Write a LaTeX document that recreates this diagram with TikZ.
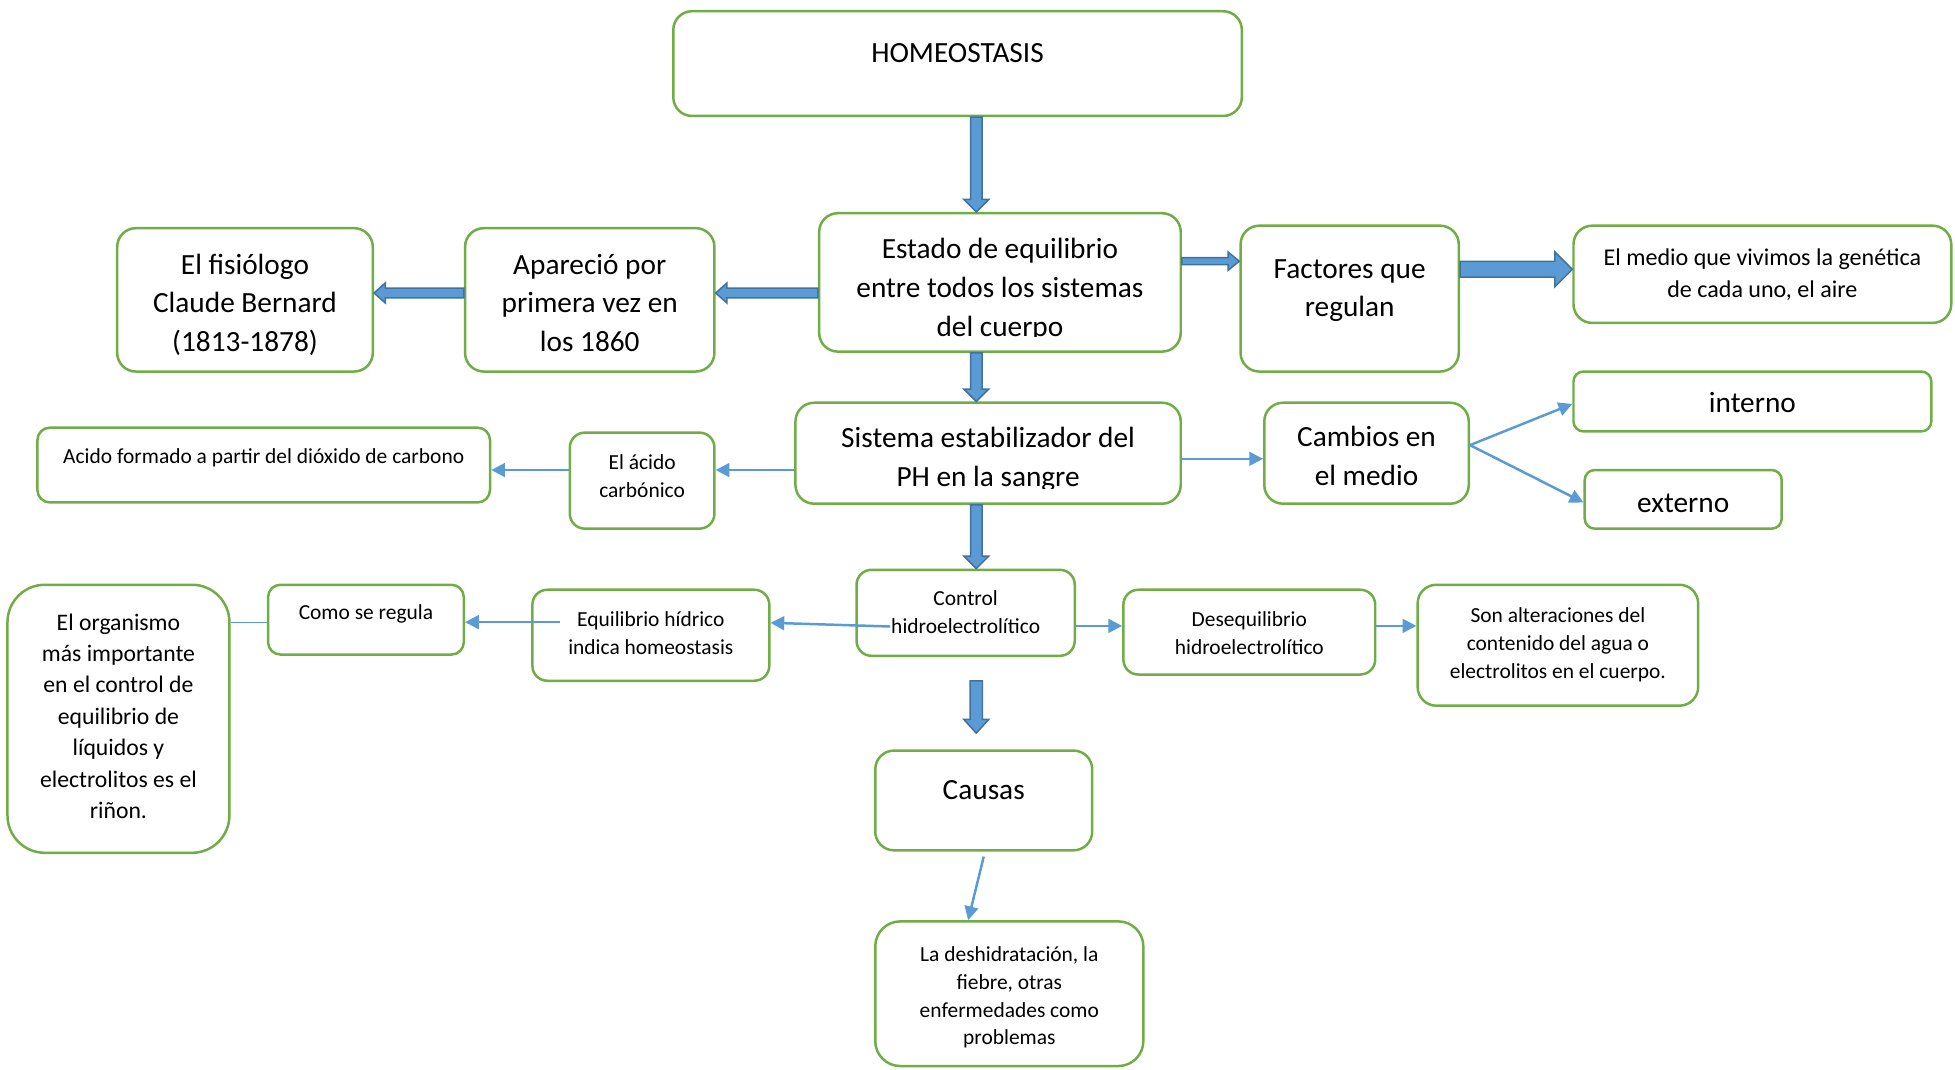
\documentclass[tikz,border=0pt]{standalone}
\usepackage{fontspec}
\setmainfont{Carlito}
\usetikzlibrary{arrows.meta,calc}

% flecha de bloque: desde, hasta, medio cuerpo, media punta, largo punta
\newcommand{\flechabloque}[5]{%
  \draw[gruesa] let \p1=(#1), \p2=(#2), \n1={veclen(\x2-\x1,\y2-\y1)},
    \n2={(\x2-\x1)/\n1}, \n3={(\y2-\y1)/\n1} in
    ({\x1-(\n3)*(#3)},{\y1+(\n2)*(#3)})
    -- ({\x2-(\n2)*(#5)-(\n3)*(#3)},{\y2-(\n3)*(#5)+(\n2)*(#3)})
    -- ({\x2-(\n2)*(#5)-(\n3)*(#4)},{\y2-(\n3)*(#5)+(\n2)*(#4)})
    -- (\x2,\y2)
    -- ({\x2-(\n2)*(#5)+(\n3)*(#4)},{\y2-(\n3)*(#5)-(\n2)*(#4)})
    -- ({\x2-(\n2)*(#5)+(\n3)*(#3)},{\y2-(\n3)*(#5)-(\n2)*(#3)})
    -- ({\x1+(\n3)*(#3)},{\y1-(\n2)*(#3)}) -- cycle;}

\begin{document}
\begin{tikzpicture}[x=1pt,y=-1pt,
    caja/.style={draw=verde, line width=2pt, rounded corners=15pt, fill=white, align=center, inner sep=2pt, text depth=0pt},
    grande/.style={font=\fontsize{23.5}{31}\selectfont},
    media/.style={font=\fontsize{19.3}{26}\selectfont},
    organo/.style={font=\fontsize{19}{25.2}\selectfont},
    chica/.style={font=\fontsize{17.2}{22.3}\selectfont},
    fina/.style={draw=azul, line width=2pt, -{Triangle[length=11pt,width=11pt]}},
    linea/.style={draw=azul, line width=1pt},
    gruesa/.style={draw=azuloscuro, fill=azul, line width=1.2pt}]
    \definecolor{verde}{HTML}{70AD47}
    \definecolor{azul}{HTML}{5B9BD5}
    \definecolor{azuloscuro}{HTML}{41719C}
    \useasboundingbox (0,0) rectangle (1568,858);

    %Cajas
    \node[caja, grande, minimum width=456pt, minimum height=84pt, text height=16pt, text depth=17.6pt] (homeo) at (768,51) {HOMEOSTASIS};
    \node[caja, grande, minimum width=290pt, minimum height=111pt, text height=86pt] (estado) at (802,226.5) {Estado de equilibrio\\entre todos los sistemas\\del cuerpo};
    \node[caja, grande, minimum width=200pt, minimum height=115pt, text height=83pt] (aparecio) at (473,240.5) {Apareció por\\primera vez en\\los 1860};
    \node[caja, grande, minimum width=205pt, minimum height=115pt, text height=83pt] (fisiologo) at (196.5,240.5) {El fisiólogo\\Claude Bernard\\(1813-1878)};
    \node[caja, grande, minimum width=175pt, minimum height=117pt, text height=29.4pt] (factores) at (1082.5,239.5) {Factores que\\regulan};
    \node[caja, media, minimum width=303pt, minimum height=78pt, text height=37.6pt] (medio) at (1413.5,220) {El medio que vivimos la genética\\de cada uno, el aire};
    \node[caja, grande, minimum width=309pt, minimum height=81pt, text height=53pt] (sistema) at (792.5,363.5) {Sistema estabilizador del\\PH en la sangre};
    \node[caja, chica, minimum width=116pt, minimum height=77pt, rounded corners=12pt, text height=27pt] (acido) at (515,385.5) {El ácido\\carbónico};
    \node[caja, chica, minimum width=363pt, minimum height=60pt, rounded corners=10pt, text height=14pt, text depth=16pt] (formado) at (211.5,373) {Acido formado a partir del dióxido de carbono};
    \node[caja, grande, minimum width=164pt, minimum height=81pt, text height=51.4pt] (cambios) at (1096,363.5) {Cambios en\\el medio};
    \node[caja, grande, minimum width=287pt, minimum height=48pt, rounded corners=8pt, text height=18.4pt] (interno) at (1405.5,322) {interno};
    \node[caja, grande, minimum width=158pt, minimum height=47pt, rounded corners=8pt, text height=21.4pt] (externo) at (1350,400.5) {externo};
    \node[caja, chica, minimum width=175pt, minimum height=69pt, rounded corners=12pt, text height=33pt] (control) at (774.5,491.5) {Control\\hidroelectrolítico};
    \node[caja, chica, minimum width=202pt, minimum height=68pt, rounded corners=12pt, text height=36pt] (desequilibrio) at (1002,507) {Desequilibrio\\hidroelectrolítico};
    \node[caja, chica, minimum width=225pt, minimum height=97pt, text height=53pt] (alteraciones) at (1249.5,517.5) {Son alteraciones del\\contenido del agua o\\electrolitos en el cuerpo.};
    \node[caja, chica, minimum width=190pt, minimum height=73pt, rounded corners=12pt, text height=31pt] (equilibrio) at (522,509.5) {Equilibrio hídrico\\indica homeostasis};
    \node[caja, chica, minimum width=157pt, minimum height=56pt, rounded corners=10pt, text height=14pt, text depth=14pt] (regula) at (293.5,497) {Como se regula};
    \node[caja, organo, minimum width=178pt, minimum height=215pt, rounded corners=30pt, text height=160pt] (organismo) at (95,576.5) {El organismo\\más importante\\en el control de\\equilibrio de\\líquidos y\\electrolitos es el\\riñon.};
    \node[caja, grande, minimum width=174pt, minimum height=80pt, text height=16pt, text depth=17.6pt] (causas) at (789,642) {Causas};
    \node[caja, chica, minimum width=215pt, minimum height=116pt, rounded corners=20pt, text height=82pt] (deshidratacion) at (809.5,797) {La deshidratación, la\\fiebre, otras\\enfermedades como\\problemas};

    %Texto cortado abajo
    \fill[white] ($(estado.south west)+(20,-2)$) rectangle ($(estado.south east)+(-20,-12.5)$);
    \fill[white] ($(sistema.south west)+(20,-2)$) rectangle ($(sistema.south east)+(-20,-13)$);

    %Flechas gruesas
    \coordinate (eje) at (783,0);
    \coordinate (fila) at (0,235);
    \coordinate (fila2) at (0,209.5);
    \coordinate (fila3) at (0,216);
    \coordinate (c1) at (783,546);
    \coordinate (c2) at (783,588);
    \flechabloque{homeo.south -| eje}{estado.north -| eje}{4.6pt}{10pt}{10pt}
    \flechabloque{estado.south -| eje}{sistema.north -| eje}{4.6pt}{10pt}{10pt}
    \flechabloque{sistema.south -| eje}{control.north -| eje}{4.6pt}{10pt}{10pt}
    \flechabloque{c1}{c2}{5pt}{10pt}{11pt}
    \flechabloque{estado.west |- fila}{aparecio.east |- fila}{4pt}{8pt}{9pt}
    \flechabloque{aparecio.west |- fila}{fisiologo.east |- fila}{4pt}{8pt}{9pt}
    \flechabloque{estado.east |- fila2}{factores.west |- fila2}{2.8pt}{7.3pt}{9pt}
    \flechabloque{factores.east |- fila3}{medio.west |- fila3}{6.3pt}{14pt}{14pt}

    %Flechas finas
    \coordinate (fila4) at (0,377);
    \coordinate (fila5) at (0,368);
    \coordinate (fila6) at (0,502);
    \coordinate (fila7) at (0,499);
    \draw[fina] (sistema.west |- fila4) -- (acido.east |- fila4);
    \draw[fina] (acido.west |- fila4) -- (formado.east |- fila4);
    \draw[fina] (sistema.east |- fila5) -- (cambios.west |- fila5);
    \draw[fina] ([yshift=6.5pt]cambios.east) -- ([yshift=-2pt]interno.west);
    \draw[fina] ([yshift=6.5pt]cambios.east) -- ([yshift=-2.5pt]externo.west);
    \draw[fina] ([xshift=28pt,yshift=-11pt]control.west) -- ([yshift=10pt]equilibrio.east);
    \draw[fina] (control.east |- fila6) -- (desequilibrio.west |- fila6);
    \draw[fina] (desequilibrio.east |- fila6) -- (alteraciones.west |- fila6);
    \draw[fina] ([xshift=23pt,yshift=10.5pt]equilibrio.west) -- (regula.east |- fila7);
    \draw[linea] (regula.west |- fila7) -- (organismo.east |- fila7);
    \draw[fina] ([yshift=-4pt]causas.south) -- ([xshift=-33pt]deshidratacion.north);
\end{tikzpicture}
\end{document}
